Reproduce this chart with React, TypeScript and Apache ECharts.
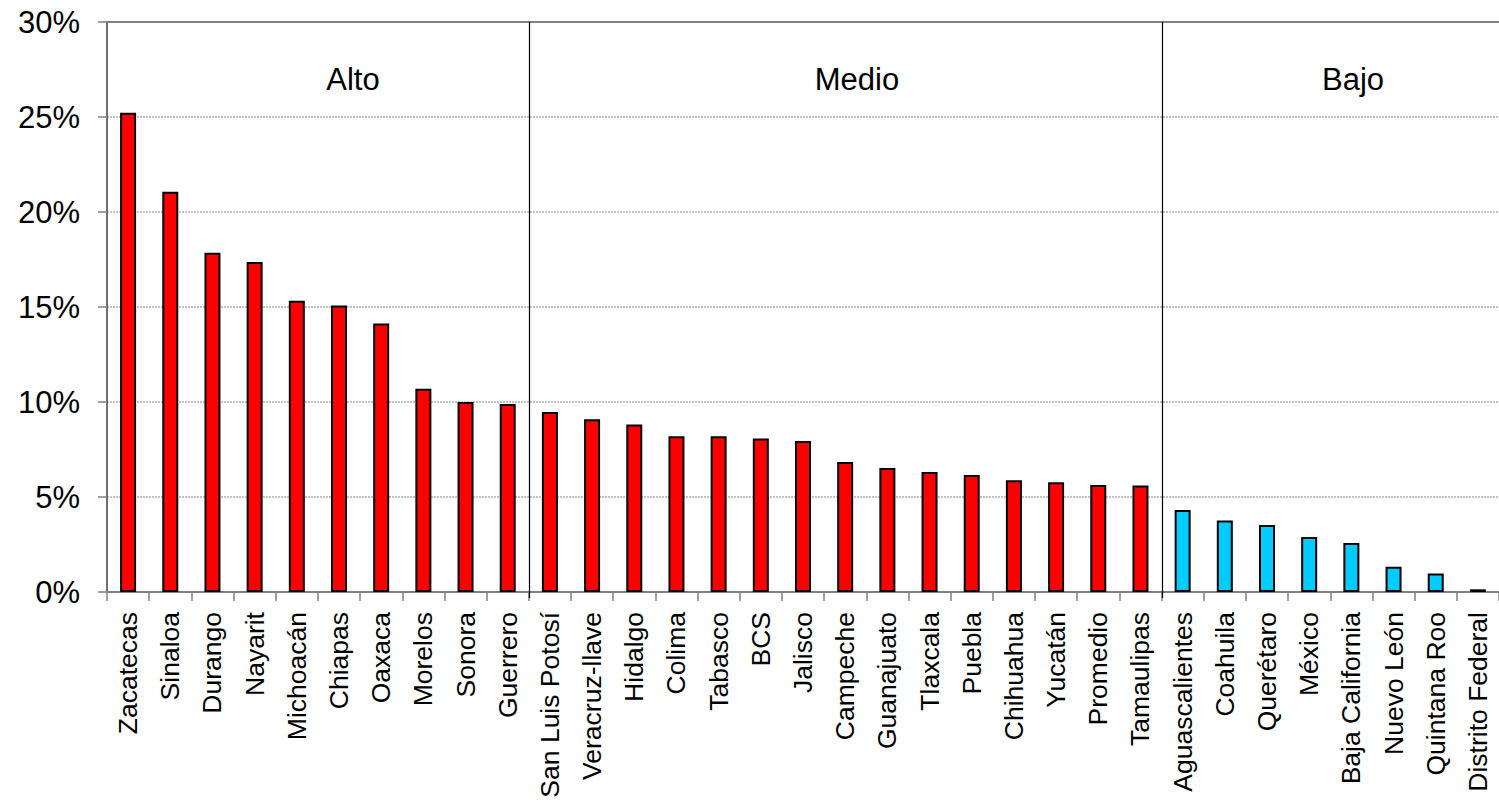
import React, { useEffect, useRef } from "react";
import * as echarts from "echarts";

const categories = [
  "Zacatecas", "Sinaloa", "Durango", "Nayarit", "Michoacán", "Chiapas", "Oaxaca", "Morelos", "Sonora", "Guerrero",
  "San Luis Potosí", "Veracruz-llave", "Hidalgo", "Colima", "Tabasco", "BCS", "Jalisco", "Campeche", "Guanajuato",
  "Tlaxcala", "Puebla", "Chihuahua", "Yucatán", "Promedio", "Tamaulipas",
  "Aguascalientes", "Coahuila", "Querétaro", "México", "Baja California", "Nuevo León", "Quintana Roo", "Distrito Federal",
];

const values = [
  25.23, 21.07, 17.85, 17.37, 15.33, 15.08, 14.13, 10.7, 10.0, 9.89,
  9.47, 9.09, 8.81, 8.2, 8.2, 8.08, 7.95, 6.84, 6.53, 6.32, 6.16, 5.88, 5.78, 5.63, 5.6,
  4.32, 3.76, 3.53, 2.89, 2.58, 1.33, 0.97, 0.14,
];

const groups = [
  { name: "Alto", start: 0, end: 9, color: "#FF0000", labelX: 353 },
  { name: "Medio", start: 10, end: 24, color: "#FF0000", labelX: 857 },
  { name: "Bajo", start: 25, end: 32, color: "#00CCFF", labelX: 1353 },
];

const yTicks = [0, 5, 10, 15, 20, 25, 30];

const FONT = "Arial, 'Liberation Sans', sans-serif";

export default function App() {
  const ref = useRef<HTMLDivElement>(null);
  useEffect(() => {
    if (!ref.current) return;
    const chart = echarts.init(ref.current, null, { renderer: "svg" });
    const colorFor = (i: number) => {
      const g = groups.find((g) => i >= g.start && i <= g.end);
      return g ? g.color : "#FF0000";
    };
    chart.setOption({
      animation: false,
      backgroundColor: "#ffffff",
      grid: { left: 107, top: 22, height: 570, right: -3 },
      xAxis: [
        {
          type: "category",
          data: categories,
          boundaryGap: true,
          axisLine: { show: true, lineStyle: { color: "#808080", width: 2 } },
          axisTick: { show: true, alignWithLabel: false, length: 9, lineStyle: { color: "#808080", width: 1.5 } },
          axisLabel: {
            rotate: 90,
            interval: 0,
            margin: 20,
            fontSize: 26.5,
            color: "#000",
            fontFamily: FONT,
          },
          splitLine: { show: false },
        },
        {
          type: "category",
          data: categories,
          position: "top",
          axisLine: { show: true, lineStyle: { color: "#808080", width: 2 } },
          axisTick: { show: false },
          axisLabel: { show: false },
        },
      ],
      yAxis: {
        type: "value",
        min: 0,
        max: 30,
        interval: 5,
        axisLine: { show: true, lineStyle: { color: "#404040", width: 1.5 } },
        axisTick: { show: true, length: 9, lineStyle: { color: "#808080", width: 1.5 } },
        axisLabel: {
          formatter: (v: number) => (yTicks.includes(v) ? `${v}%` : ""),
          fontSize: 31,
          color: "#000",
          margin: 27,
          fontFamily: FONT,
        },
        splitLine: { show: true, lineStyle: { color: "#b0b0b0", type: [2, 1], width: 1.5 } },
      },
      series: [
        {
          type: "bar",
          barWidth: 16,
          data: values.map((v, i) => ({
            value: v,
            itemStyle: { color: colorFor(i), borderColor: "#000", borderWidth: 2 },
          })),
        },
      ],
    });

    const dividers: any[] = [];
    const texts: any[] = [];
    const top = 22;
    for (let gi = 0; gi < groups.length; gi++) {
      const g = groups[gi];
      if (gi > 0) {
        const a = chart.convertToPixel({ xAxisIndex: 0 }, g.start - 1) as number;
        const b = chart.convertToPixel({ xAxisIndex: 0 }, g.start) as number;
        const x = Math.round((a + b) / 2) + 0.5;
        dividers.push({
          type: "line",
          shape: { x1: x, y1: top, x2: x, y2: 598 },
          style: { stroke: "#000", lineWidth: 1.2 },
          z: 10,
        });
      }
      texts.push({
        type: "text",
        x: g.labelX,
        y: 79,
        style: {
          text: g.name,
          fontSize: 31,
          fontFamily: FONT,
          fill: "#000",
          textAlign: "center",
          textVerticalAlign: "middle",
        },
        z: 10,
      });
    }
    chart.setOption({ graphic: [...dividers, ...texts] });

    return () => chart.dispose();
  }, []);
  return (
    <div
      ref={ref}
      style={{ position: "fixed", left: 0, top: 0, width: 1499, height: 804, background: "#fff" }}
    />
  );
}
